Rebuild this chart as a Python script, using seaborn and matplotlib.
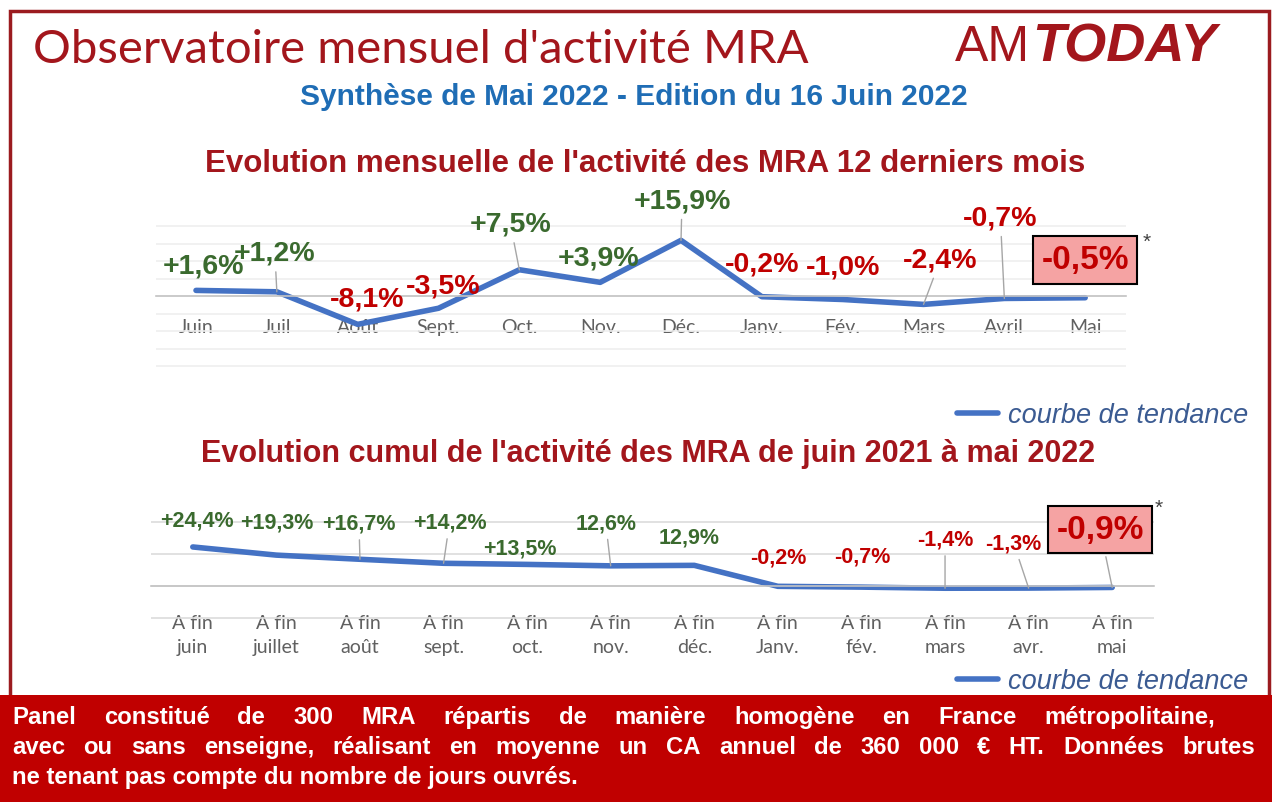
import matplotlib
matplotlib.use("Agg")
import numpy as np
import pandas as pd
import matplotlib.pyplot as plt
from matplotlib.patches import Rectangle
import seaborn as sns

# données
mois = ["Juin", "Juil", "Août", "Sept.", "Oct.", "Nov.", "Déc.",
        "Janv.", "Fév.", "Mars", "Avril", "Mai"]
evol_mensuelle = [1.6, 1.2, -8.1, -3.5, 7.5, 3.9, 15.9, -0.2, -1.0, -2.4, -0.7, -0.5]
etiq_mensuelle = ["+1,6%", "+1,2%", "-8,1%", "-3,5%", "+7,5%", "+3,9%", "+15,9%",
                  "-0,2%", "-1,0%", "-2,4%", "-0,7%", "-0,5%"]

fins = ["A fin\njuin", "A fin\njuillet", "A fin\naoût", "A fin\nsept.", "A fin\noct.",
        "A fin\nnov.", "A fin\ndéc.", "A fin\nJanv.", "A fin\nfév.", "A fin\nmars",
        "A fin\navr.", "A fin\nmai"]
evol_cumul = [24.4, 19.3, 16.7, 14.2, 13.5, 12.6, 12.9, -0.2, -0.7, -1.4, -1.3, -0.9]
etiq_cumul = ["+24,4%", "+19,3%", "+16,7%", "+14,2%", "+13,5%", "12,6%", "12,9%",
              "-0,2%", "-0,7%", "-1,4%", "-1,3%", "-0,9%"]

# placement des étiquettes (décalage en pixels, trait de rappel)
off_mens = [(7, 25), (-2, 39), (9, 26), (5, 23), (-9, 46), (-2, 25), (1, 40),
            (0, 33), (0, 33), (17, 45), (-4, 81), (0, 38)]
trait_mens = [0, 1, 0, 0, 1, 0, 1, 0, 0, 1, 1, 0]
off_cum = [(4, 27), (0, 33), (-1, 36), (6, 41), (-7, 16), (-5, 43), (-5, 28),
           (0, 29), (1, 31), (0, 49), (-15, 45), (-12, 58)]
trait_cum = [0, 0, 1, 1, 0, 1, 0, 0, 0, 1, 1, 1]

BLEU = "#4472c4"
VERT = "#3a6a2e"
ROUGE = "#c00000"
BORDEAUX = "#a3161c"

sns.set_theme(style="white")
plt.rcParams["font.family"] = ["Liberation Sans", "DejaVu Sans"]

W, H = 1272, 803
fig = plt.figure(figsize=(W / 100, H / 100), dpi=100)


def px(x0, y0, x1, y1):
    return [x0 / W, 1 - y1 / H, (x1 - x0) / W, (y1 - y0) / H]


def prepare(ax, ylim, yticks, grid_col):
    ax.set_ylim(*ylim)
    ax.set_xlim(-0.5, 11.5)
    ax.set_yticks(yticks)
    ax.set_yticklabels([])
    ax.yaxis.grid(True, color=grid_col, lw=1.2)
    ax.set_axisbelow(True)
    for s in ["top", "right", "left"]:
        ax.spines[s].set_visible(False)
    ax.spines["bottom"].set_position(("data", 0))
    ax.spines["bottom"].set_color("#c4c4c4")
    ax.spines["bottom"].set_linewidth(1.2)
    ax.set_xticks(np.arange(-0.5, 12, 1), minor=True)
    ax.tick_params(axis="x", which="minor", length=6, color="#c4c4c4", direction="out")
    ax.tick_params(axis="y", length=0)
    ax.set_xlabel("")
    ax.set_ylabel("")


def etiquettes(ax, vals, textes, offs, traits, fs, box_fs, star_off):
    n = len(vals)
    for i, (v, t, (dx, dy), tr) in enumerate(zip(vals, textes, offs, traits)):
        col = VERT if v > 0 else ROUGE
        kw = dict(xy=(i, v), xytext=(dx, dy), textcoords="offset pixels",
                  ha="center", va="center", fontweight="bold", color=col, fontsize=fs)
        if tr:
            kw["arrowprops"] = dict(arrowstyle="-", color="#a6a6a6", lw=1,
                                    shrinkA=2, shrinkB=0)
        if i == n - 1:
            kw["fontsize"] = box_fs
            kw["bbox"] = dict(boxstyle="square,pad=0.25", fc="#f5a3a3", ec="black", lw=1.5)
        ax.annotate(t, **kw)
    ax.annotate("*", xy=(n - 1, vals[-1]), xytext=star_off, textcoords="offset pixels",
                ha="center", va="center", fontsize=15, color="#404040")


def legende(ax, y):
    ax.legend(loc="center right", bbox_to_anchor=(1273 / W, 1 - y / H),
              bbox_transform=fig.transFigure, frameon=False, handlelength=1.5,
              handletextpad=0.4, prop=dict(style="italic", size=19.5),
              labelcolor="#3b5b92")


# graphique mensuel
ax1 = fig.add_axes(px(155.6, 220, 1125.6, 374))
df1 = pd.DataFrame({"mois": mois, "evol": evol_mensuelle})
sns.lineplot(data=df1, x="mois", y="evol", ax=ax1, color=BLEU, lw=4,
             label="courbe de tendance", sort=False)
prepare(ax1, (-22, 22), np.arange(-20, 21, 5), "#efefef")
ax1.tick_params(axis="x", which="major", length=0, pad=16, labelsize=14,
                labelcolor="#606060")
for lab in ax1.get_xticklabels():
    lab.set_family(["Lato", "DejaVu Sans"])
etiquettes(ax1, evol_mensuelle, etiq_mensuelle, off_mens, trait_mens, 20.5, 24, (62, 56))
legende(ax1, 416)

# graphique cumul
ax2 = fig.add_axes(px(151, 519.8, 1154, 622.2))
df2 = pd.DataFrame({"fin": fins, "cumul": evol_cumul})
sns.lineplot(data=df2, x="fin", y="cumul", ax=ax2, color=BLEU, lw=4,
             label="courbe de tendance", sort=False)
prepare(ax2, (-22, 42), [-20, 0, 20, 40], "#dcdcdc")
ax2.tick_params(axis="x", which="major", length=0, pad=20, labelsize=14,
                labelcolor="#606060")
for lab in ax2.get_xticklabels():
    lab.set_family(["Lato", "DejaVu Sans"])
    lab.set_linespacing(1.5)
    lab.set_bbox(dict(fc="white", ec="none", pad=1))
etiquettes(ax2, evol_cumul, etiq_cumul, off_cum, trait_cum, 15.5, 24, (46, 80))
legende(ax2, 682)

# cadre et bandeau
fig.patches.append(Rectangle((10 / W, 0), 1259 / W, 1 - 12 / H, transform=fig.transFigure,
                             fill=False, ec="#9b1b1f", lw=2.5, zorder=-2))
fig.patches.append(Rectangle((0, 0), 1, (H - 696) / H, transform=fig.transFigure,
                             fc="#c00000", ec="none", zorder=-1))

# titres
fig.text(33 / W, 1 - 50 / H, "Observatoire mensuel d'activité MRA", fontsize=34,
         color=BORDEAUX, ha="left", va="center", family=["Lato", "DejaVu Sans"])
fig.text(955 / W, 1 - 48 / H, "AM", fontsize=36, color=BORDEAUX, ha="left", va="center")
fig.text(1032 / W, 1 - 48 / H, "TODAY", fontsize=39, color=BORDEAUX, ha="left",
         va="center", fontweight="bold", style="italic")
fig.text(634 / W, 1 - 97 / H, "Synthèse de Mai 2022 - Edition du 16 Juin 2022",
         fontsize=21.5, color="#1f6db5", fontweight="bold", ha="center", va="center")
fig.text(645 / W, 1 - 164 / H, "Evolution mensuelle de l'activité des MRA 12 derniers mois",
         fontsize=22.5, color=BORDEAUX, fontweight="bold", ha="center", va="center")
fig.text(648 / W, 1 - 454 / H, "Evolution cumul de l'activité des MRA de juin 2021 à mai 2022",
         fontsize=22, color=BORDEAUX, fontweight="bold", ha="center", va="center")

# texte du bandeau (justifié)
r = fig.canvas.get_renderer()
FS_BANDEAU = 17.2


def ligne_justifiee(texte, y, x0, x1):
    mots = texte.split()
    objs = [fig.text(0, 1 - y / H, m, fontsize=FS_BANDEAU, color="white", fontweight="bold",
                     ha="left", va="center", zorder=5) for m in mots]
    larg = [o.get_window_extent(r).width for o in objs]
    gap = (x1 - x0 - sum(larg)) / (len(mots) - 1)
    x = x0
    for o, w in zip(objs, larg):
        o.set_x(x / W)
        x += w + gap


ligne_justifiee("Panel constitué de 300 MRA répartis de manière homogène en France métropolitaine,",
                718, 12, 1215)
ligne_justifiee("avec ou sans enseigne, réalisant en moyenne un CA annuel de 360 000 € HT. Données brutes",
                748, 12, 1255)
fig.text(12 / W, 1 - 778 / H, "ne tenant pas compte du nombre de jours ouvrés.",
         fontsize=FS_BANDEAU, color="white", fontweight="bold", ha="left", va="center", zorder=5)

fig.savefig("out.png", dpi=100)
